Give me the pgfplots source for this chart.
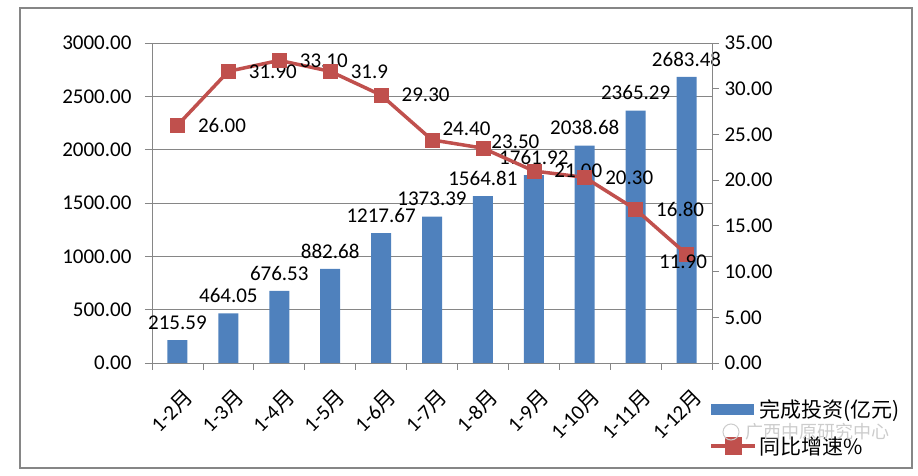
\documentclass[border=0pt]{standalone}
\usepackage{pgfplots}
\pgfplotsset{compat=1.18}
\usepackage{pgfplotstable}
\usepackage{fontspec}
\setmainfont{Carlito}
\newfontfamily\cjk{Noto Sans CJK SC}
\definecolor{barblue}{HTML}{4F81BD}
\definecolor{linered}{HTML}{C0504D}
\definecolor{axgray}{HTML}{868686}

\pgfplotstableread{
x bar rate ratelabel dx dy
0 215.59 26.00 26.00 0 0
1 464.05 31.90 31.90 0 0
2 676.53 33.10 33.10 0 0
3 882.68 31.90 31.9 0 0
4 1217.67 29.30 29.30 0 0
5 1373.39 24.40 24.40 -10 11
6 1564.81 23.50 23.50 -12 6
7 1761.92 21.00 21.00 0 0
8 2038.68 20.30 20.30 0 0
9 2365.29 16.80 16.80 0 0
10 2683.48 11.90 11.90 -48 -8
}\datatable

\begin{document}
\begin{tikzpicture}[font=\fontsize{21}{25}\selectfont]
\path[use as bounding box] (0,0) rectangle (918pt,476pt);
\draw[axgray, line width=1.5pt] (20pt,8pt) rectangle (912pt,468pt);
\pgfplotsset{
  common/.style={
    at={(152pt,113pt)}, anchor=south west,
    scale only axis, width=560pt, height=320pt,
    xmin=-0.5, xmax=10.5,
    tick align=outside,
    major tick length=7pt,
    minor tick length=7pt,
    tick style={axgray, line width=0.8pt},
    axis line style={axgray, line width=0.8pt, -},
    every outer x axis line/.append style={-},
    every outer y axis line/.append style={-},
    /pgf/number format/assume math mode=true,
    /pgf/number format/.cd, fixed, fixed zerofill, precision=2, 1000 sep={},
  },
}
\begin{axis}[
  common,
  ymin=0, ymax=3000,
  ytick={0,500,...,3000},
  axis x line*=bottom, axis y line*=left,
  xtick={0,...,10},
  xticklabels={1-2{\cjk 月},1-3{\cjk 月},1-4{\cjk 月},1-5{\cjk 月},1-6{\cjk 月},1-7{\cjk 月},1-8{\cjk 月},1-9{\cjk 月},1-10{\cjk 月},1-11{\cjk 月},1-12{\cjk 月}},
  x tick label style={rotate=45, anchor=north east, yshift=-12pt, xshift=-5pt},
  major x tick style={draw=none},
  minor xtick={-0.5,0.5,...,10.5},
  ymajorgrids, grid style={axgray, line width=0.8pt},
  yticklabel style={xshift=-10pt},
]
\addplot[ybar, bar width=20pt, fill=barblue, draw=none,
  nodes near coords, point meta=explicit symbolic,
  nodes near coords style={anchor=south, yshift=7pt, text=black}]
  table[x=x, y=bar, meta=bar]{\datatable};
\end{axis}
\begin{axis}[
  common,
  ymin=0, ymax=35,
  ytick={0,5,...,35},
  axis y line*=right, axis x line=none,
  yticklabel style={xshift=2pt},
  legend style={at={(0.992,-0.1)}, anchor=north west, draw=none, fill=none,
    font=\cjk\fontsize{21}{25}\selectfont, row sep=14pt, inner sep=2pt},
  legend cell align=left,
]
\addlegendimage{legend image code/.code={\fill[barblue] (0pt,-5pt) rectangle (42pt,5pt);}}
\addlegendentry{完成投资(亿元)}
\addplot[linered, line width=3.5pt, mark=square*, mark size=7pt,
  mark options={fill=linered, draw=linered, line width=0.5pt},
  legend image code/.code={\draw[linered, line width=3.5pt] (0pt,0pt) -- (44pt,0pt);
    \fill[linered] (15pt,-7pt) rectangle (29pt,7pt);},
  visualization depends on={\thisrow{dx} \as \ldx},
  visualization depends on={\thisrow{dy} \as \ldy},
  nodes near coords, point meta=explicit symbolic,
  nodes near coords style={anchor=west, xshift=17pt+\ldx pt, yshift=\ldy pt, text=black, font=\fontsize{21}{25}\selectfont}]
  table[x=x, y=rate, meta=ratelabel]{\datatable};
\addlegendentry{同比增速\%}
\end{axis}
\draw[gray!40, line width=1pt] (731pt,44pt) circle (8pt);
\node[text=gray!40, anchor=west, font=\cjk\fontsize{18}{22}\selectfont] at (742pt,44pt) {广西中原研究中心};
\end{tikzpicture}
\end{document}
